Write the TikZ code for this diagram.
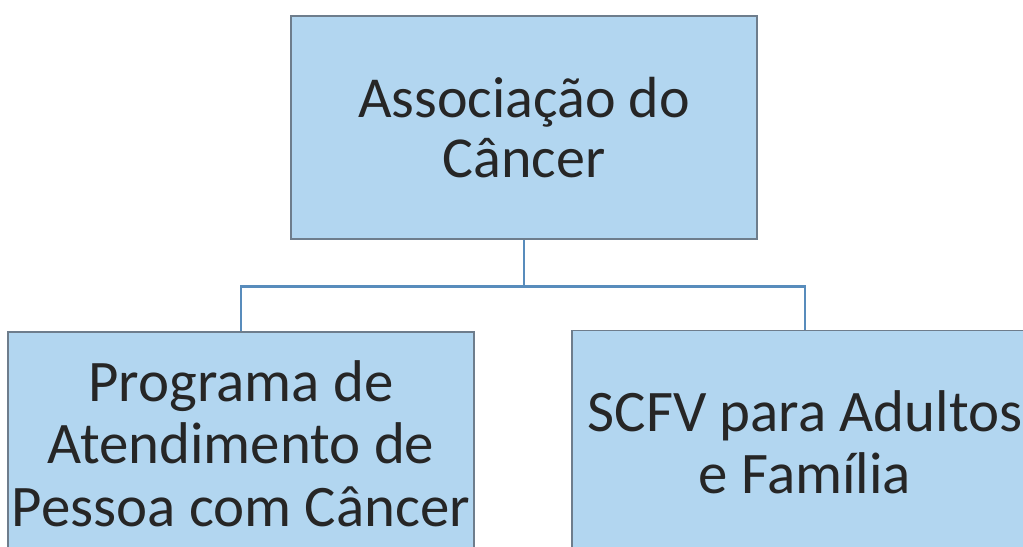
\documentclass[tikz,border=0pt]{standalone}
\usepackage{fontspec}
\setmainfont{Carlito}
\usetikzlibrary{positioning}

\definecolor{boxfill}{RGB}{178,214,240}
\definecolor{boxline}{RGB}{110,125,140}
\definecolor{linkblue}{RGB}{88,140,188}

\begin{document}
\begin{tikzpicture}
    \pgfmathsetmacro{\boxwidth}{9.32}
    \pgfmathsetmacro{\boxheight}{4.46}
    \pgfmathsetmacro{\pagewidth}{20.46}
    \pgfmathsetmacro{\pageheight}{10.94}
    \providecommand{\boxfontsize}{\fontsize{33pt}{34pt}\selectfont}
    \providecommand{\lowfontsize}{\fontsize{33.5pt}{35.5pt}\selectfont}
    \tikzset{
        orgbox/.style={draw=boxline,line width=0.6pt,fill=boxfill,
            minimum width=\boxwidth cm,minimum height=\boxheight cm,
            align=center,inner sep=0,
            font=\boxfontsize,text=black!85},
        lowbox/.style={orgbox,font=\lowfontsize},
        link/.style={draw=linkblue,line width=1.4pt}
    }
    \useasboundingbox (0,0) rectangle (\pagewidth,\pageheight);
    \clip (0,0) rectangle (\pagewidth,\pageheight);
    \fill[white] (0,0) rectangle (\pagewidth,\pageheight);
    % boxes
    \node[orgbox] (assoc) at (10.48,8.39) {Associação do\\Câncer};
    \node[lowbox] (programa) at (4.82,2.07) {Programa de\\Atendimento de\\Pessoa com Câncer};
    \node[lowbox] (scfv) at (16.10,2.10) {SCFV para Adultos\\e Família};
    % connectors
    \draw[link] (assoc.south) -- ++(0,-0.94) coordinate (fork);
    \draw[link] (fork) -| (programa.north);
    \draw[link] (fork) -| (scfv.north);
\end{tikzpicture}
\end{document}
